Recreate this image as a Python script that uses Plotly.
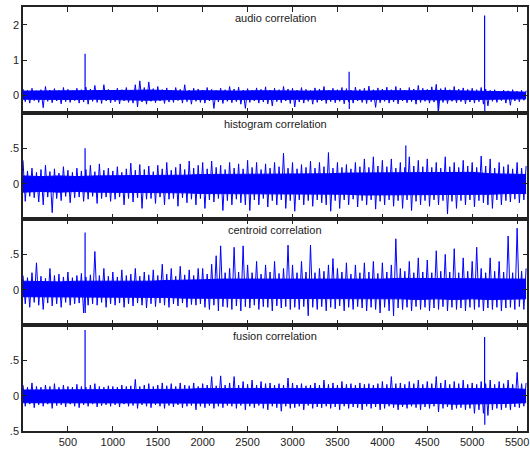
import plotly.graph_objects as go
from plotly.subplots import make_subplots

X_MAX = 5610
TITLES = ["audio correlation", "histogram correlation", "centroid correlation", "fusion correlation"]
X_TICKS = [500, 1000, 1500, 2000, 2500, 3000, 3500, 4000, 4500, 5000, 5500]

# dense core band of each signal, sampled every 200 samples from 0
CORE_STEP = 200
audio_core_hi = [0.12,0.12,0.13,0.12,0.12,0.12,0.14,0.15,0.13,0.12,0.13,0.12,0.12,0.13,0.12,0.12,0.12,0.13,0.12,0.12,0.13,0.12,0.13,0.14,0.13,0.12,0.10,0.09,0.09]
audio_core_lo = [-0.11,-0.12,-0.11,-0.12,-0.11,-0.11,-0.13,-0.14,-0.12,-0.11,-0.12,-0.11,-0.12,-0.12,-0.11,-0.12,-0.11,-0.12,-0.11,-0.12,-0.12,-0.11,-0.12,-0.13,-0.12,-0.12,-0.10,-0.10,-0.10]
hist_core_hi = [0.11,0.10,0.11,0.10,0.11,0.11,0.12,0.11,0.12,0.12,0.13,0.13,0.14,0.13,0.14,0.14,0.13,0.14,0.15,0.15,0.16,0.15,0.16,0.15,0.15,0.16,0.14,0.13,0.13]
hist_core_lo = [-0.12,-0.11,-0.12,-0.11,-0.12,-0.12,-0.12,-0.12,-0.13,-0.13,-0.14,-0.14,-0.15,-0.14,-0.15,-0.15,-0.14,-0.15,-0.15,-0.16,-0.16,-0.15,-0.16,-0.16,-0.15,-0.16,-0.15,-0.14,-0.14]
cent_core_hi = [0.12,0.11,0.11,0.12,0.12,0.11,0.12,0.12,0.13,0.13,0.14,0.15,0.15,0.14,0.15,0.15,0.14,0.15,0.15,0.14,0.15,0.16,0.16,0.15,0.16,0.16,0.16,0.15,0.15]
cent_core_lo = [-0.10,-0.10,-0.10,-0.11,-0.11,-0.10,-0.11,-0.11,-0.11,-0.12,-0.12,-0.13,-0.13,-0.12,-0.13,-0.13,-0.13,-0.13,-0.13,-0.12,-0.13,-0.13,-0.14,-0.13,-0.14,-0.13,-0.14,-0.13,-0.13]
fus_core_hi = [0.08,0.08,0.08,0.08,0.08,0.08,0.08,0.09,0.09,0.09,0.10,0.10,0.10,0.10,0.10,0.10,0.10,0.10,0.10,0.10,0.10,0.11,0.10,0.10,0.11,0.11,0.10,0.10,0.09]
fus_core_lo = [-0.10,-0.10,-0.10,-0.10,-0.10,-0.10,-0.10,-0.10,-0.10,-0.10,-0.11,-0.11,-0.11,-0.11,-0.11,-0.11,-0.11,-0.11,-0.11,-0.11,-0.11,-0.12,-0.11,-0.11,-0.12,-0.12,-0.11,-0.11,-0.10]

# local maxima every 50 samples (from 0) and local minima every 50 samples (from 25)
PEAK_STEP = 50
audio_up = [0.18,0.14,0.20,0.13,0.16,0.25,0.15,0.19,0.14,0.22,0.17,0.13,0.20,0.16,0.23,0.18,0.28,0.15,0.30,0.17,
            0.14,0.20,0.16,0.22,0.15,0.30,0.41,0.22,0.38,0.19,0.25,0.16,0.21,0.14,0.22,0.17,0.30,0.15,0.20,0.18,
            0.15,0.22,0.17,0.14,0.20,0.16,0.25,0.18,0.23,0.15,0.19,0.14,0.21,0.17,0.24,0.15,0.20,0.16,0.25,0.18,
            0.20,0.15,0.22,0.17,0.14,0.21,0.18,0.25,0.15,0.20,0.16,0.22,0.19,0.15,0.23,0.17,0.20,0.26,0.16,0.21,
            0.18,0.23,0.16,0.25,0.20,0.15,0.22,0.18,0.28,0.20,0.17,0.24,0.31,0.19,0.22,0.16,0.25,0.18,0.21,0.17,
            0.20,0.16,0.22,0.18,0.14,0.16,0.12,0.15,0.13,0.16,0.12,0.14,0.13]
audio_dn = [-0.18,-0.22,-0.15,-0.20,-0.35,-0.17,-0.21,-0.16,-0.24,-0.18,-0.20,-0.15,-0.22,-0.19,-0.25,-0.17,-0.20,-0.23,-0.16,-0.21,
            -0.18,-0.24,-0.16,-0.20,-0.22,-0.33,-0.19,-0.25,-0.17,-0.21,-0.16,-0.23,-0.19,-0.20,-0.15,-0.22,-0.18,-0.25,-0.17,-0.20,
            -0.22,-0.16,-0.37,-0.19,-0.23,-0.17,-0.21,-0.18,-0.25,-0.37,-0.20,-0.16,-0.22,-0.19,-0.24,-0.30,-0.18,-0.21,-0.16,-0.23,
            -0.33,-0.19,-0.22,-0.17,-0.25,-0.20,-0.16,-0.23,-0.18,-0.21,-0.17,-0.24,-0.19,-0.22,-0.16,-0.20,-0.23,-0.18,-0.34,-0.21,
            -0.17,-0.22,-0.19,-0.24,-0.16,-0.21,-0.18,-0.25,-0.20,-0.17,-0.22,-0.19,-0.44,-0.20,-0.23,-0.17,-0.21,-0.18,-0.24,-0.19,
            -0.22,-0.18,-0.25,-0.30,-0.17,-0.20,-0.15,-0.22,-0.28,-0.16,-0.18,-0.14]
hist_up = [0.33,0.18,0.22,0.16,0.20,0.26,0.17,0.21,0.15,0.24,0.19,0.16,0.22,0.18,0.20,0.26,0.17,0.28,0.19,0.22,
           0.18,0.24,0.16,0.21,0.29,0.19,0.27,0.20,0.25,0.17,0.26,0.21,0.30,0.19,0.23,0.28,0.20,0.32,0.22,0.26,
           0.30,0.21,0.32,0.23,0.26,0.20,0.30,0.22,0.28,0.21,0.33,0.23,0.30,0.20,0.28,0.22,0.30,0.24,0.43,0.22,
           0.30,0.21,0.27,0.23,0.32,0.22,0.30,0.24,0.44,0.22,0.30,0.23,0.27,0.21,0.30,0.24,0.35,0.23,0.38,0.25,
           0.33,0.24,0.35,0.22,0.30,0.23,0.38,0.25,0.33,0.24,0.35,0.23,0.30,0.22,0.38,0.24,0.30,0.23,0.33,0.25,
           0.30,0.23,0.39,0.25,0.35,0.22,0.30,0.24,0.27,0.21,0.30,0.22,0.25]
hist_dn = [-0.25,-0.18,-0.20,-0.26,-0.30,-0.19,-0.41,-0.21,-0.24,-0.18,-0.27,-0.20,-0.19,-0.25,-0.22,-0.18,-0.28,-0.21,-0.19,-0.25,
           -0.22,-0.19,-0.30,-0.21,-0.26,-0.20,-0.35,-0.22,-0.21,-0.28,-0.19,-0.30,-0.22,-0.21,-0.32,-0.20,-0.27,-0.22,-0.30,-0.21,
           -0.35,-0.23,-0.26,-0.21,-0.38,-0.24,-0.30,-0.22,-0.27,-0.30,-0.38,-0.23,-0.30,-0.21,-0.33,-0.24,-0.30,-0.23,-0.35,-0.24,
           -0.39,-0.23,-0.30,-0.24,-0.32,-0.23,-0.27,-0.30,-0.39,-0.24,-0.35,-0.23,-0.30,-0.22,-0.33,-0.24,-0.30,-0.23,-0.36,-0.25,
           -0.30,-0.23,-0.32,-0.24,-0.35,-0.23,-0.38,-0.25,-0.30,-0.24,-0.32,-0.23,-0.30,-0.24,-0.43,-0.25,-0.35,-0.24,-0.30,-0.23,
           -0.33,-0.24,-0.27,-0.30,-0.35,-0.23,-0.30,-0.24,-0.26,-0.22,-0.27,-0.23]
cent_up = [0.20,0.17,0.24,0.38,0.19,0.16,0.30,0.20,0.22,0.18,0.25,0.17,0.20,0.23,0.18,0.21,0.54,0.20,0.30,0.19,
           0.25,0.18,0.28,0.20,0.22,0.30,0.19,0.25,0.21,0.28,0.20,0.36,0.22,0.30,0.19,0.33,0.21,0.28,0.20,0.30,
           0.30,0.22,0.36,0.48,0.62,0.24,0.30,0.60,0.25,0.62,0.35,0.24,0.40,0.22,0.35,0.25,0.40,0.23,0.30,0.63,
           0.35,0.24,0.40,0.25,0.63,0.24,0.30,0.26,0.35,0.44,0.30,0.25,0.38,0.22,0.35,0.24,0.38,0.25,0.40,0.23,
           0.38,0.25,0.35,0.72,0.30,0.26,0.40,0.24,0.45,0.25,0.42,0.24,0.55,0.26,0.50,0.25,0.58,0.24,0.45,0.26,
           0.40,0.60,0.30,0.24,0.45,0.26,0.40,0.25,0.76,0.24,0.87,0.26,0.30]
cent_dn = [-0.20,-0.25,-0.18,-0.22,-0.28,-0.19,-0.23,-0.20,-0.25,-0.18,-0.22,-0.20,-0.19,-0.33,-0.22,-0.20,-0.22,-0.18,-0.25,-0.20,
           -0.22,-0.19,-0.25,-0.20,-0.23,-0.19,-0.22,-0.26,-0.20,-0.24,-0.19,-0.22,-0.25,-0.20,-0.23,-0.19,-0.25,-0.21,-0.22,-0.20,
           -0.25,-0.28,-0.22,-0.30,-0.24,-0.25,-0.28,-0.23,-0.30,-0.24,-0.26,-0.22,-0.28,-0.24,-0.25,-0.30,-0.23,-0.26,-0.24,-0.28,
           -0.25,-0.28,-0.24,-0.37,-0.25,-0.28,-0.24,-0.30,-0.25,-0.27,-0.23,-0.30,-0.25,-0.28,-0.24,-0.26,-0.30,-0.25,-0.28,-0.33,
           -0.25,-0.30,-0.37,-0.26,-0.28,-0.25,-0.30,-0.24,-0.28,-0.25,-0.30,-0.26,-0.28,-0.24,-0.30,-0.25,-0.28,-0.26,-0.30,-0.25,
           -0.28,-0.25,-0.30,-0.26,-0.28,-0.25,-0.30,-0.26,-0.25,-0.28,-0.24,-0.28]
fus_up = [0.15,0.12,0.18,0.13,0.12,0.15,0.13,0.17,0.12,0.15,0.13,0.12,0.16,0.13,0.12,0.15,0.17,0.13,0.12,0.14,
          0.13,0.12,0.15,0.13,0.14,0.23,0.13,0.15,0.17,0.13,0.15,0.18,0.14,0.17,0.13,0.18,0.15,0.14,0.18,0.13,
          0.17,0.15,0.27,0.14,0.28,0.15,0.18,0.27,0.15,0.20,0.16,0.22,0.15,0.20,0.17,0.18,0.15,0.17,0.15,0.25,
          0.18,0.15,0.17,0.14,0.15,0.18,0.15,0.22,0.16,0.18,0.15,0.20,0.16,0.17,0.15,0.18,0.16,0.17,0.15,0.17,
          0.20,0.16,0.27,0.17,0.18,0.16,0.20,0.17,0.22,0.16,0.20,0.17,0.27,0.18,0.22,0.16,0.20,0.17,0.22,0.16,
          0.18,0.16,0.20,0.17,0.22,0.16,0.20,0.17,0.22,0.16,0.33,0.17,0.18]
fus_dn = [-0.15,-0.12,-0.17,-0.13,-0.15,-0.12,-0.18,-0.14,-0.13,-0.16,-0.12,-0.15,-0.17,-0.13,-0.15,-0.12,-0.16,-0.14,-0.13,-0.15,
          -0.13,-0.16,-0.12,-0.15,-0.14,-0.18,-0.13,-0.15,-0.17,-0.13,-0.15,-0.18,-0.14,-0.16,-0.13,-0.17,-0.15,-0.14,-0.20,-0.15,
          -0.17,-0.14,-0.18,-0.15,-0.17,-0.14,-0.15,-0.18,-0.14,-0.20,-0.15,-0.17,-0.14,-0.18,-0.20,-0.15,-0.17,-0.22,-0.15,-0.18,
          -0.17,-0.15,-0.20,-0.14,-0.18,-0.16,-0.17,-0.15,-0.18,-0.16,-0.20,-0.15,-0.18,-0.16,-0.17,-0.20,-0.15,-0.18,-0.16,-0.20,
          -0.18,-0.15,-0.17,-0.20,-0.16,-0.18,-0.15,-0.17,-0.20,-0.16,-0.18,-0.15,-0.23,-0.18,-0.16,-0.20,-0.18,-0.17,-0.20,-0.18,
          -0.25,-0.20,-0.25,-0.28,-0.20,-0.18,-0.20,-0.17,-0.20,-0.16,-0.17,-0.15]

# isolated strong peaks: (sample index, value)
audio_major = [(691, 1.18), (3630, 0.67), (3632, -0.39), (4622, -0.44), (5138, 2.26), (5140, -0.49)]
hist_major = [(691, 0.50), (4261, 0.54)]
cent_major = [(691, 0.81), (693, -0.33)]
fus_major = [(691, 0.93), (5138, 0.83), (5140, -0.41)]

Y_RANGES = [[-0.5, 2.5], [-0.5, 1.0], [-0.5, 1.0], [-0.5, 1.0]]
Y_TICKVALS = [[0, 1, 2], [0, 0.5], [0, 0.5], [-0.5, 0, 0.5]]
Y_TICKTEXT = [["0", "1", "2"], ["0", ".5"], ["0", ".5"], [".5", "0", ".5"]]

series = [
    (audio_core_hi, audio_core_lo, audio_up, audio_dn, audio_major),
    (hist_core_hi, hist_core_lo, hist_up, hist_dn, hist_major),
    (cent_core_hi, cent_core_lo, cent_up, cent_dn, cent_major),
    (fus_core_hi, fus_core_lo, fus_up, fus_dn, fus_major),
]

BLUE = "#0000ff"
FONT = "Liberation Sans, Arial, sans-serif"

fig = make_subplots(rows=4, cols=1, shared_xaxes=True, vertical_spacing=0)

for r, (chi, clo, up, dn, major) in enumerate(series, start=1):
    cx = [i * CORE_STEP for i in range(len(chi))]
    fig.add_trace(go.Scatter(x=cx, y=clo, mode="lines", line=dict(color=BLUE, width=1),
                             hoverinfo="skip", showlegend=False), row=r, col=1)
    fig.add_trace(go.Scatter(x=cx, y=chi, mode="lines", line=dict(color=BLUE, width=1),
                             fill="tonexty", fillcolor=BLUE, hoverinfo="skip", showlegend=False), row=r, col=1)
    # waveform: alternate between successive local maxima and minima
    wx, wy = [], []
    for i, v in enumerate(up):
        wx.append(i * PEAK_STEP)
        wy.append(v)
        if i < len(dn):
            wx.append(PEAK_STEP // 2 + i * PEAK_STEP)
            wy.append(dn[i])
    fig.add_trace(go.Scatter(x=wx, y=wy, mode="lines", line=dict(color=BLUE, width=1),
                             hoverinfo="skip", showlegend=False), row=r, col=1)
    sx, sy = [], []
    for x, v in major:
        sx += [x, x, None]
        sy += [0, v, None]
    fig.add_trace(go.Scatter(x=sx, y=sy, mode="lines", line=dict(color=BLUE, width=1.2),
                             hoverinfo="skip", showlegend=False, connectgaps=False), row=r, col=1)

    fig.update_yaxes(range=Y_RANGES[r - 1], tickvals=Y_TICKVALS[r - 1], ticktext=Y_TICKTEXT[r - 1],
                     row=r, col=1)
    fig.add_annotation(text=TITLES[r - 1], xref="x domain", yref="y domain",
                       x=0.5, y=1 - 11 / 106.4, xanchor="center", yanchor="middle",
                       showarrow=False, font=dict(size=11, color="#222", family=FONT),
                       row=r, col=1)

fig.update_xaxes(range=[0, X_MAX], tickvals=X_TICKS, ticks="inside", ticklen=5, tickwidth=1,
                 tickcolor="#222", showline=True, linecolor="#222", linewidth=1.5, mirror="ticks",
                 showgrid=False, zeroline=False)
fig.update_xaxes(showticklabels=True, row=4, col=1)
fig.update_yaxes(ticks="inside", ticklen=4, tickwidth=1, tickcolor="#222", showline=True,
                 linecolor="#222", linewidth=1.5, mirror="ticks", showgrid=False, zeroline=False)

fig.update_layout(
    width=530, height=449,
    margin=dict(l=23, r=1, t=7, b=16),
    paper_bgcolor="white", plot_bgcolor="white",
    font=dict(family=FONT, size=11, color="#222"),
    showlegend=False,
)

fig.write_html("out.html", config={"displayModeBar": False},
               post_script="document.body.style.margin='0';")
